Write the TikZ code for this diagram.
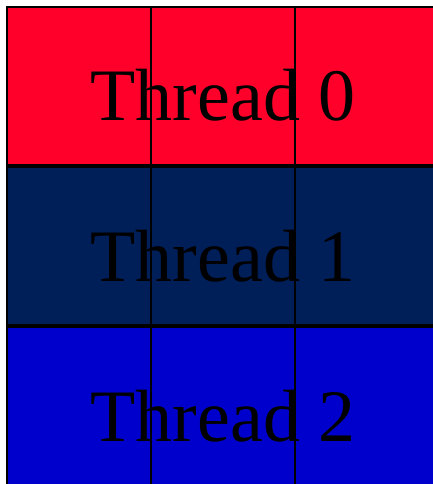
\documentclass[tikz,border=0pt]{standalone}
\usepackage{fontspec}
\setmainfont{Liberation Serif}
\definecolor{rowred}{RGB}{255,0,42}
\definecolor{rownavy}{RGB}{0,30,88}
\definecolor{rowblue}{RGB}{0,0,204}
\tikzset{
  gridthin/.style={black, line width=2pt},
  gridthick/.style={black, line width=3.5pt},
  threadlabel/.style={font=\fontsize{74}{74}\selectfont, text=black, anchor=base, inner sep=0pt},
}
\begin{document}
\begin{tikzpicture}[x=1pt,y=-1pt]
\useasboundingbox (0,0) rectangle (433,484);
\fill[white] (0,0) rectangle (433,484);
\fill[rowred]  (7,7)   rectangle (433,166);
\fill[rownavy] (7,166) rectangle (433,326);
\fill[rowblue] (7,326) rectangle (433,484);
\node[threadlabel] (t0) at (223,121) {Thread 0};
\node[threadlabel] (t1) at (223,281) {Thread 1};
\node[threadlabel] (t2) at (223,441) {Thread 2};
\draw[gridthin] (7,6) -- (7,484);
\draw[gridthin] (6,7) -- (433,7);
\draw[gridthin] (151,7) -- (151,484);
\draw[gridthin] (294.5,7) -- (294.5,484);
\draw[gridthick] (7,166) -- (433,166);
\draw[gridthick] (7,326) -- (433,326);
\end{tikzpicture}
\end{document}
